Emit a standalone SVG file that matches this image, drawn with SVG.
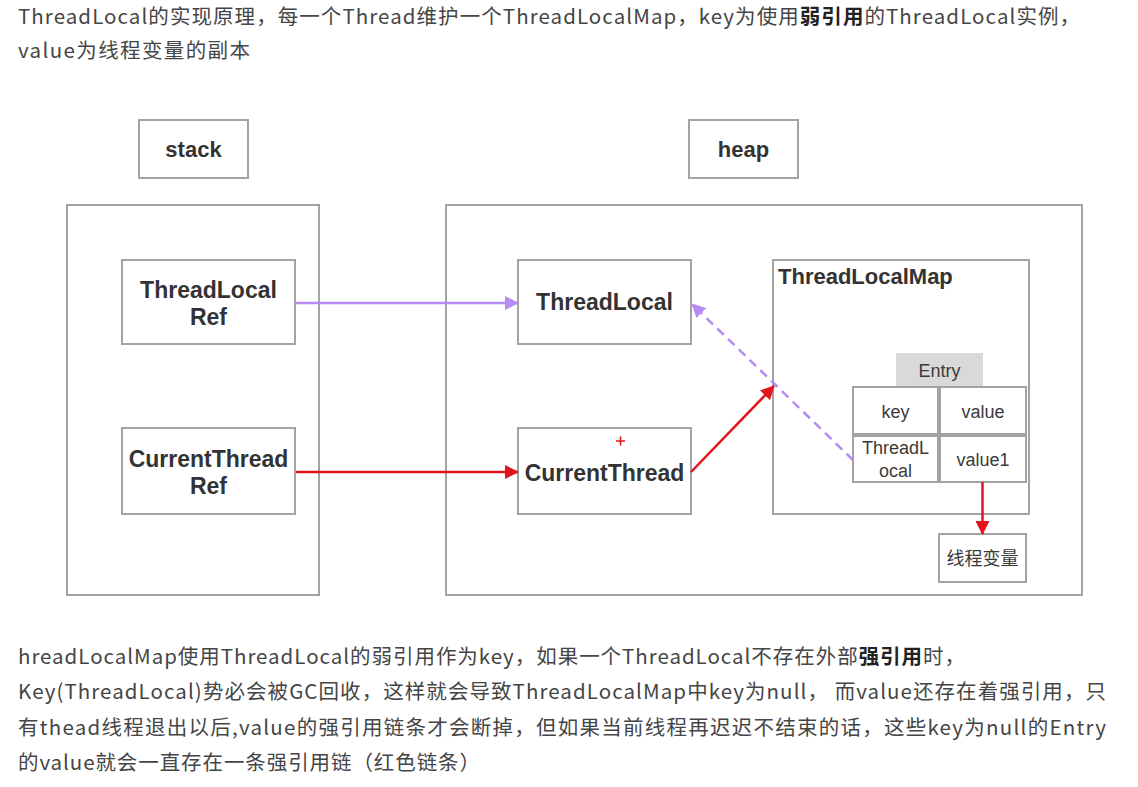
<svg xmlns="http://www.w3.org/2000/svg" width="1138" height="787" viewBox="0 0 1138 787">
<style>
.para{font-family:"Noto Sans CJK SC","Noto Sans",sans-serif;font-size:20.5px;fill:#454545}
.b{font-weight:bold;fill:#222}
.box{fill:#fff;stroke:#a3a3a3;stroke-width:2}
.lbl{font-family:"Liberation Sans",Arial,sans-serif;font-weight:bold;fill:#333;text-anchor:middle}
.cell{font-family:"Liberation Sans",Arial,sans-serif;font-size:18px;fill:#3a3a3a;text-anchor:middle}
.cjk{font-family:"Noto Sans CJK SC",sans-serif;font-size:18px;fill:#3a3a3a;text-anchor:middle}
.purple{stroke:#b68cf2;stroke-width:2.5;fill:none}
.red{stroke:#e3141c;stroke-width:2.5;fill:none}
</style>
<defs>
<marker id="ap" markerUnits="userSpaceOnUse" viewBox="0 0 14 14" refX="13" refY="7" markerWidth="14" markerHeight="14" orient="auto">
<path d="M0,0 L14,7 L0,14 z" fill="#b68cf2"/>
</marker>
<marker id="ar" markerUnits="userSpaceOnUse" viewBox="0 0 14 14" refX="13" refY="7" markerWidth="14" markerHeight="14" orient="auto">
<path d="M0,0 L14,7 L0,14 z" fill="#e3141c"/>
</marker>
</defs>
<rect width="1138" height="787" fill="#fff"/>

<text class="para" x="18" y="24" textLength="1062" lengthAdjust="spacing">ThreadLocal的实现原理，每一个Thread维护一个ThreadLocalMap，key为使用<tspan class="b">弱引用</tspan>的ThreadLocal实例，</text>
<text class="para" x="18" y="58" textLength="232" lengthAdjust="spacing">value为线程变量的副本</text>

<g id="stack-label"><rect class="box" x="139" y="120" width="109" height="58"/><text class="lbl" x="193.5" y="157" font-size="22">stack</text></g>
<g id="heap-label"><rect class="box" x="689" y="120" width="109" height="58"/><text class="lbl" x="743.5" y="157" font-size="22">heap</text></g>

<g id="stack"><rect class="box" x="67" y="205" width="252" height="390"/></g>
<g id="heap"><rect class="box" x="446" y="205" width="636" height="390"/></g>

<g id="threadlocal-ref"><rect class="box" x="122" y="260" width="173" height="84"/>
<text class="lbl" x="208.5" y="298" font-size="23">ThreadLocal</text><text class="lbl" x="208.5" y="325" font-size="23">Ref</text></g>
<g id="currentthread-ref"><rect class="box" x="122" y="428" width="173" height="86"/>
<text class="lbl" x="208.5" y="467" font-size="23">CurrentThread</text><text class="lbl" x="208.5" y="494" font-size="23">Ref</text></g>

<g id="threadlocal"><rect class="box" x="518" y="260" width="173" height="84"/>
<text class="lbl" x="604.5" y="310" font-size="23">ThreadLocal</text></g>
<g id="currentthread"><rect class="box" x="518" y="428" width="173" height="86"/>
<text class="lbl" x="604.5" y="481" font-size="23">CurrentThread</text>
<path d="M616,441 h9 M620.5,436.5 v9" stroke="#e3141c" stroke-width="1.6"/></g>

<g id="threadlocalmap"><rect class="box" x="773" y="260" width="256" height="254"/>
<text class="lbl" x="778" y="284" font-size="22" style="text-anchor:start">ThreadLocalMap</text></g>

<g id="entry">
<rect x="896" y="353" width="87" height="34" fill="#d9d9d9"/>
<text class="cell" x="939.5" y="377">Entry</text>
<rect class="box" x="853" y="387" width="85" height="47"/>
<rect class="box" x="940" y="387" width="86" height="47"/>
<rect class="box" x="853" y="436" width="85" height="46"/>
<rect class="box" x="940" y="436" width="86" height="46"/>
<text class="cell" x="895.5" y="418">key</text>
<text class="cell" x="983" y="418">value</text>
<text class="cell" x="895.5" y="454">ThreadL</text>
<text class="cell" x="895.5" y="477">ocal</text>
<text class="cell" x="983" y="466" font-size="17">value1</text>
</g>

<g id="thread-var"><rect class="box" x="939" y="534" width="87" height="48"/>
<text class="cjk" x="982.5" y="565">线程变量</text></g>

<g id="connectors">
<line class="purple" x1="296" y1="303" x2="518" y2="303" marker-end="url(#ap)"/>
<line class="red" x1="296" y1="472" x2="518" y2="472" marker-end="url(#ar)"/>
<line class="red" x1="691" y1="472" x2="774" y2="386" marker-end="url(#ar)"/>
<line class="purple" x1="853" y1="460" x2="692" y2="304" stroke-dasharray="9,6" marker-end="url(#ap)"/>
<line class="red" x1="982.5" y1="482" x2="982.5" y2="534" marker-end="url(#ar)"/>
</g>

<text class="para" x="18" y="664" textLength="947" lengthAdjust="spacing">hreadLocalMap使用ThreadLocal的弱引用作为key，如果一个ThreadLocal不存在外部<tspan class="b">强引用</tspan>时，</text>
<text class="para" x="18" y="699" textLength="1088" lengthAdjust="spacing">Key(ThreadLocal)势必会被GC回收，这样就会导致ThreadLocalMap中key为null， 而value还存在着强引用，只</text>
<text class="para" x="18" y="735" textLength="1088" lengthAdjust="spacing">有thead线程退出以后,value的强引用链条才会断掉，但如果当前线程再迟迟不结束的话，这些key为null的Entry</text>
<text class="para" x="18" y="770" textLength="462" lengthAdjust="spacing">的value就会一直存在一条强引用链（红色链条）</text>
</svg>
